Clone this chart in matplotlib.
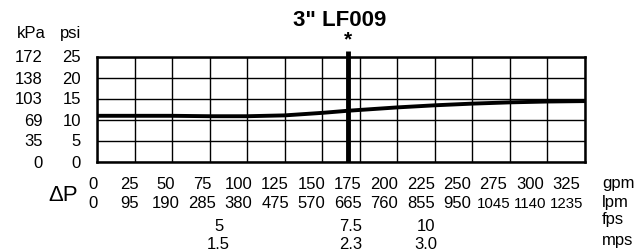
import matplotlib
matplotlib.use("Agg")
import matplotlib.pyplot as plt

plt.rcParams['font.family'] = ['Liberation Sans', 'DejaVu Sans']

# pressure drop curve (gpm -> psi)
flow_gpm = [0, 25, 50, 75, 100, 125, 150, 167, 200, 225, 250, 275, 300, 325]
drop_psi = [11.0, 11.0, 11.0, 10.9, 10.9, 11.1, 11.7, 12.2, 13.0, 13.5, 13.9, 14.2, 14.4, 14.5]

# axis labels
psi_ticks = [0, 5, 10, 15, 20, 25]
kpa_labels = ['0', '35', '69', '103', '138', '172']
gpm_ticks = [0, 25, 50, 75, 100, 125, 150, 175, 200, 225, 250, 275, 300, 325]
lpm_labels = ['0', '95', '190', '285', '380', '475', '570', '665', '760', '855',
              '950', '1045', '1140', '1235']
fps_labels = ['5', '7.5', '10']
mps_labels = ['1.5', '2.3', '3.0']
vel_at_gpm = [81, 169, 219]
rated_gpm = 167
title = '3" LF009'

FS = 12

fig = plt.figure(figsize=(6.38, 2.53), dpi=100)
ax = fig.add_axes([97 / 638, 1 - 163 / 253, 488 / 638, 105 / 253])
ax.set_xlim(0, 325)
ax.set_ylim(0, 25)
ax.set_xticks(gpm_ticks)
ax.set_yticks(psi_ticks)
ax.tick_params(length=0, labelbottom=False, labelleft=False)
ax.grid(True, color='black', linewidth=1.0)
for s in ax.spines.values():
    s.set_linewidth(1.8)

ax.plot(flow_gpm, drop_psi, color='black', linewidth=2.8, solid_capstyle='butt')
ax.plot([rated_gpm, rated_gpm], [0, 26.4], color='black', linewidth=3.5,
        clip_on=False, solid_capstyle='butt')
ax.text(rated_gpm, 1.17, '*', transform=ax.get_xaxis_transform(), ha='center',
        va='center', fontsize=15, fontweight='bold')

fig.text(340 / 638, 1 - 20 / 253, title, ha='center', va='center',
         fontsize=16, fontweight='bold')

# left scales
ytr = ax.get_yaxis_transform()
for p, k in zip(psi_ticks, kpa_labels):
    ax.text(-0.111, p, k, transform=ytr, ha='right', va='center', fontsize=FS)
    ax.text(-0.033, p, str(p), transform=ytr, ha='right', va='center', fontsize=FS)
ax.text(-0.164, 1.19, 'kPa', transform=ax.transAxes, ha='left', va='baseline', fontsize=FS)
ax.text(-0.033, 1.19, 'psi', transform=ax.transAxes, ha='right', va='baseline', fontsize=FS)

# bottom scales (printed row is a bit tighter than the grid)
xtr = ax.get_xaxis_transform()
for g, l in zip(gpm_ticks, lpm_labels):
    xp = g * 0.97 - 2.7
    ax.text(xp, -0.248, str(g), transform=xtr, ha='center', va='baseline', fontsize=FS)
    ax.text(xp, -0.429, l, transform=xtr, ha='center', va='baseline',
            fontsize=FS if len(l) < 4 else FS - 1.2)
for g, f, m in zip(vel_at_gpm, fps_labels, mps_labels):
    ax.text(g, -0.645, f, transform=xtr, ha='center', va='baseline', fontsize=FS)
    ax.text(g, -0.815, m, transform=xtr, ha='center', va='baseline', fontsize=FS)

ax.text(-0.07, -0.305, '\u0394P', transform=ax.transAxes, ha='center', va='center',
        fontsize=16)
for yy, u in zip([-0.238, -0.419, -0.585, -0.785], ['gpm', 'lpm', 'fps', 'mps']):
    ax.text(1.035, yy, u, transform=ax.transAxes, ha='left', va='baseline', fontsize=FS)

fig.savefig('out.png', dpi=100)
